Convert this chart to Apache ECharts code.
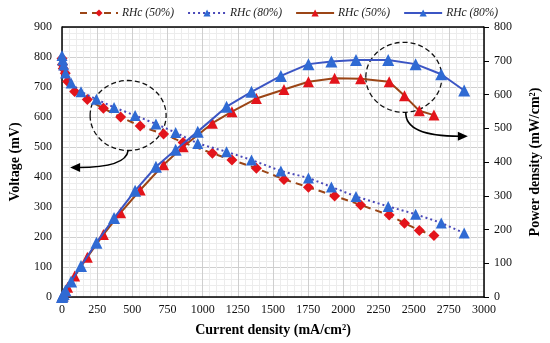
<!DOCTYPE html>
<html>
<head>
<meta charset="utf-8">
<script src="https://cdn.jsdelivr.net/npm/echarts@6/dist/echarts.min.js"></script>
<style>html,body{margin:0;padding:0;background:#fff}#c{width:550px;height:343px}</style>
</head>
<body>
<div id="c"></div>
<script>
// Data
var current50 = [0, 3, 9, 23, 40, 90, 180, 294, 417, 556, 722, 861, 1069, 1208, 1382, 1578, 1752, 1938, 2123, 2326, 2435, 2540, 2644];
var voltage50 = [795, 775, 762, 746, 718, 685, 658, 629, 600, 570, 543, 515, 479, 457, 429, 392, 366, 337, 307, 273, 246, 222, 205];
var power50   = [0, 2, 7, 17, 29, 62, 118, 185, 250, 317, 392, 445, 515, 549, 588, 615, 638, 648, 647, 638, 596, 552, 539];

var current80 = [0, 5, 12, 25, 65, 135, 245, 370, 520, 668, 808, 965, 1170, 1347, 1556, 1752, 1915, 2090, 2319, 2514, 2696, 2859];
var voltage80 = [805, 790, 773, 747, 713, 684, 659, 632, 605, 577, 548, 512, 484, 457, 420, 397, 367, 335, 302, 276, 247, 213];
var power80   = [0, 4, 9, 19, 46, 92, 161, 234, 315, 386, 436, 490, 564, 608, 655, 690, 698, 702, 702, 690, 660, 612];

var legendLabels = {v50: 'RHc (50%)', v80: 'RHc (80%)', p50: 'RHc (50%)', p80: 'RHc (80%)'};

function pairs(xs, ys) { return xs.map(function (x, i) { return [x, ys[i]]; }); }

var FONT = '"Liberation Serif", "Times New Roman", serif';
var BROWN = '#9B4516', RED = '#E3141B', BLUE = '#2F6AD3', BLUELINE = '#3B55C4', DOTBLUE = '#4A49B8';

var chart = echarts.init(document.getElementById('c'), null, {renderer: 'canvas'});
var option = {
  animation: false,
  textStyle: {fontFamily: FONT},
  grid: {left: 56, right: 62, top: 27, bottom: 46, containLabel: false},
  legend: {
    top: 2, left: 74, itemWidth: 38, itemHeight: 9, itemGap: 13,
    textStyle: {fontFamily: FONT, fontStyle: 'italic', fontSize: 11.5, color: '#222', padding: [0, 0, 0, -1]},
    formatter: function (n) { return legendLabels[n]; },
    data: ['v50', 'v80', 'p50', 'p80']
  },
  xAxis: {
    type: 'value', min: 0, max: 3000, interval: 250,
    name: 'Current density (mA/cm²)', nameLocation: 'middle', nameGap: 26,
    nameTextStyle: {fontFamily: FONT, fontWeight: 'bold', fontSize: 14, color: '#000'},
    axisLine: {show: true, onZero: false, lineStyle: {color: '#000', width: 1.5}},
    axisTick: {show: false},
    axisLabel: {fontFamily: FONT, fontSize: 12, color: '#111', margin: 7, formatter: function (v) { return String(v); }},
    splitLine: {show: true, lineStyle: {color: '#cfcfcf', width: 1}},
    minorTick: {show: false, splitNumber: 5},
    minorSplitLine: {show: true, lineStyle: {color: '#ececec', width: 1}}
  },
  yAxis: [{
    type: 'value', min: 0, max: 900, interval: 100, position: 'left',
    name: 'Voltage (mV)', nameLocation: 'middle', nameGap: 40,
    nameTextStyle: {fontFamily: FONT, fontWeight: 'bold', fontSize: 14, color: '#000'},
    axisLine: {show: true, lineStyle: {color: '#000', width: 1.5}},
    axisTick: {show: false},
    axisLabel: {fontFamily: FONT, fontSize: 12, color: '#111', margin: 10},
    splitLine: {show: true, lineStyle: {color: '#cfcfcf', width: 1}},
    minorTick: {show: false, splitNumber: 5},
    minorSplitLine: {show: true, lineStyle: {color: '#ececec', width: 1}}
  }, {
    type: 'value', min: 0, max: 800, interval: 100, position: 'right',
    name: 'Power density (mW/cm²)', nameLocation: 'middle', nameGap: 44, nameRotate: 90,
    nameTextStyle: {fontFamily: FONT, fontWeight: 'bold', fontSize: 14, color: '#000'},
    axisLine: {show: true, lineStyle: {color: '#000', width: 1.5}},
    axisTick: {show: true, inside: false, length: 5, lineStyle: {color: '#000'}},
    axisLabel: {fontFamily: FONT, fontSize: 12, color: '#111', margin: 10},
    splitLine: {show: false}
  }],
  series: [{
    name: 'v50', type: 'line', yAxisIndex: 0, data: pairs(current50, voltage50),
    symbol: 'diamond', symbolSize: 11,
    lineStyle: {color: BROWN, width: 2, type: [7, 5]},
    itemStyle: {color: RED}, z: 3
  }, {
    name: 'v80', type: 'line', yAxisIndex: 0, data: pairs(current80, voltage80),
    symbol: 'triangle', symbolSize: 11,
    lineStyle: {color: DOTBLUE, width: 2, type: [2, 3]},
    itemStyle: {color: BLUE}, z: 4
  }, {
    name: 'p50', type: 'line', yAxisIndex: 1, data: pairs(current50, power50),
    symbol: 'triangle', symbolSize: 11,
    lineStyle: {color: BROWN, width: 2},
    itemStyle: {color: RED}, z: 3
  }, {
    name: 'p80', type: 'line', yAxisIndex: 1, data: pairs(current80, power80),
    symbol: 'triangle', symbolSize: 12,
    lineStyle: {color: BLUELINE, width: 2},
    itemStyle: {color: BLUE}, z: 4
  }]
};
chart.setOption(option);

// top border of plot
var tl = chart.convertToPixel({gridIndex: 0}, [0, 900]);
var br = chart.convertToPixel({gridIndex: 0}, [3000, 0]);
// annotations anchored in data coordinates
var c1 = chart.convertToPixel({xAxisIndex: 0, yAxisIndex: 0}, [470, 605]);
var c2 = chart.convertToPixel({xAxisIndex: 0, yAxisIndex: 1}, [2430, 651]);
var ann = {type: 'group', silent: true, children: [
  {type: 'line', shape: {x1: tl[0], y1: tl[1], x2: br[0], y2: tl[1]}, style: {stroke: '#000', lineWidth: 1.5}},
  {type: 'ellipse', shape: {cx: c1[0], cy: c1[1], rx: 38, ry: 35}, style: {fill: null, stroke: '#111', lineWidth: 1.3, lineDash: [5, 3]}},
  {type: 'bezierCurve', shape: {x1: c1[0], y1: c1[1] + 35, cpx1: c1[0] - 2, cpy1: c1[1] + 52, x2: c1[0] - 50, y2: c1[1] + 52}, style: {fill: null, stroke: '#000', lineWidth: 1.6}},
  {type: 'polygon', shape: {points: [[c1[0] - 58, c1[1] + 52], [c1[0] - 48, c1[1] + 47.5], [c1[0] - 48, c1[1] + 56.5]]}, style: {fill: '#000'}},
  {type: 'ellipse', shape: {cx: c2[0], cy: c2[1], rx: 38, ry: 35}, style: {fill: null, stroke: '#111', lineWidth: 1.3, lineDash: [5, 3]}},
  {type: 'bezierCurve', shape: {x1: c2[0] + 2, y1: c2[1] + 35, cpx1: c2[0] + 1, cpy1: c2[1] + 59, x2: c2[0] + 56, y2: c2[1] + 59}, style: {fill: null, stroke: '#000', lineWidth: 1.6}},
  {type: 'polygon', shape: {points: [[c2[0] + 64, c2[1] + 59], [c2[0] + 54, c2[1] + 54.5], [c2[0] + 54, c2[1] + 63.5]]}, style: {fill: '#000'}}
]};
chart.setOption({graphic: [ann]});
</script>
</body>
</html>
